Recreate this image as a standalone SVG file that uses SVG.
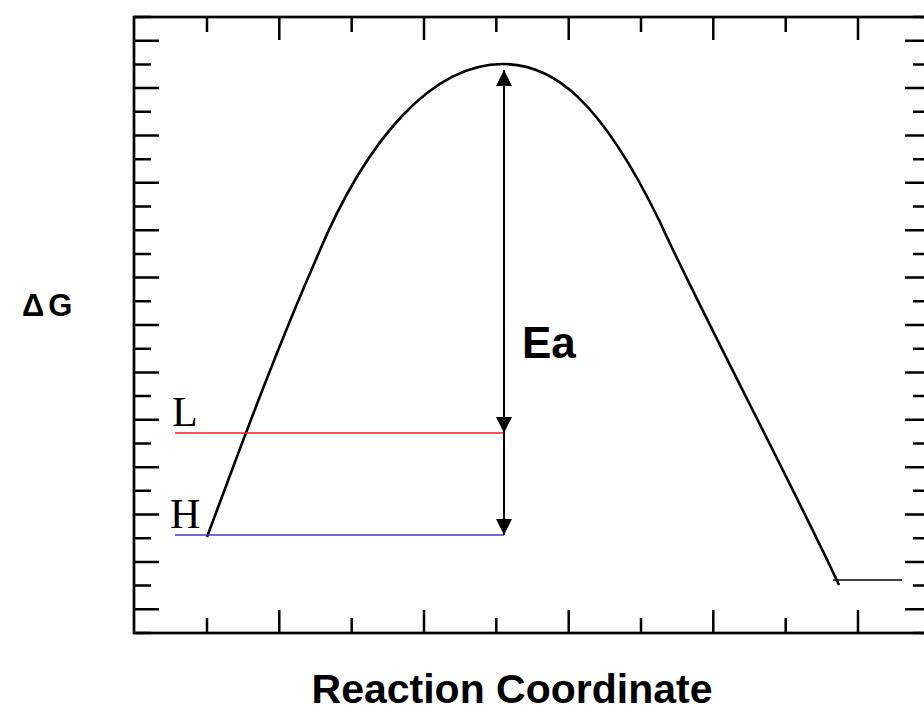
<svg xmlns="http://www.w3.org/2000/svg" width="924" height="713" viewBox="0 0 924 713">
<style>
.ax{fill:none;stroke:#000;stroke-width:2.7}
.tk{fill:none;stroke:#000;stroke-width:2.5}
.curve{fill:none;stroke:#000;stroke-width:2.6;stroke-linejoin:round}
.conn{fill:none;stroke:#000;stroke-width:2}
.lbl{font-family:"Liberation Sans",Arial,sans-serif;font-weight:bold;fill:#000}
.lvl{font-family:"Liberation Serif","Times New Roman",serif;fill:#000;font-size:42px}
</style>
<defs>
<marker id="ah" markerUnits="userSpaceOnUse" viewBox="0 0 16 16" markerWidth="16" markerHeight="16" refX="16" refY="8" orient="auto-start-reverse">
<path d="M0,0 L16,8 L0,16 z" fill="#000"/>
</marker>
</defs>
<g id="axes">
<rect class="ax" x="134" y="17" width="796" height="616"/>
<path class="tk" d="M134 17h17M134 40.7h25M134 64.4h17M134 88.1h25M134 111.8h17M134 135.5h25M134 159.2h17M134 182.8h25M134 206.5h17M134 230.2h25M134 253.9h17M134 277.6h25M134 301.3h17M134 325h25M134 348.7h17M134 372.4h25M134 396.1h17M134 419.8h25M134 443.5h17M134 467.2h25M134 490.8h17M134 514.5h25M134 538.2h17M134 561.9h25M134 585.6h17M134 609.3h25M134 633h17"/>
<path class="tk" d="M930 17h-17M930 40.7h-25M930 64.4h-17M930 88.1h-25M930 111.8h-17M930 135.5h-25M930 159.2h-17M930 182.8h-25M930 206.5h-17M930 230.2h-25M930 253.9h-17M930 277.6h-25M930 301.3h-17M930 325h-25M930 348.7h-17M930 372.4h-25M930 396.1h-17M930 419.8h-25M930 443.5h-17M930 467.2h-25M930 490.8h-17M930 514.5h-25M930 538.2h-17M930 561.9h-25M930 585.6h-17M930 609.3h-25M930 633h-17"/>
<path class="tk" d="M207 17v15M279.3 17v23M351.7 17v15M424 17v23M496.3 17v15M568.7 17v23M641 17v15M713.3 17v23M785.7 17v15M858 17v23"/>
<path class="tk" d="M207 633v-15M279.3 633v-23M351.7 633v-15M424 633v-23M496.3 633v-15M568.7 633v-23M641 633v-15M713.3 633v-23M785.7 633v-15M858 633v-23"/>
</g>
<g id="curve">
<path class="curve" d="M207,537 C235,462 272,360 317,257 C367,137 433,64 503,64 C553,64 600,99 660,222 C690,290 800,500 839,585"/>
</g>
<g id="levels">
<line x1="175" y1="433" x2="504" y2="433" stroke="#ff1a1a" stroke-width="1.6"/>
<line x1="175" y1="535" x2="504" y2="535" stroke="#3a3ac8" stroke-width="1.6"/>
<line x1="833" y1="580" x2="902" y2="580" stroke="#000" stroke-width="1.6"/>
</g>
<g id="connectors">
<path class="conn" d="M504,433 L504,70" marker-start="url(#ah)" marker-end="url(#ah)"/>
<path class="conn" d="M504,433 L504,535" marker-end="url(#ah)"/>
</g>
<g id="label-L"><text class="lvl" x="172" y="426">L</text></g>
<g id="label-H"><text class="lvl" x="170" y="528">H</text></g>
<g id="label-Ea"><text class="lbl" x="522" y="358" font-size="44">Ea</text></g>
<g id="label-dG"><text class="lbl" x="22" y="316" font-size="31">Δ<tspan dx="4">G</tspan></text></g>
<g id="label-x"><text class="lbl" x="512" y="703" font-size="41" text-anchor="middle">Reaction Coordinate</text></g>
</svg>
